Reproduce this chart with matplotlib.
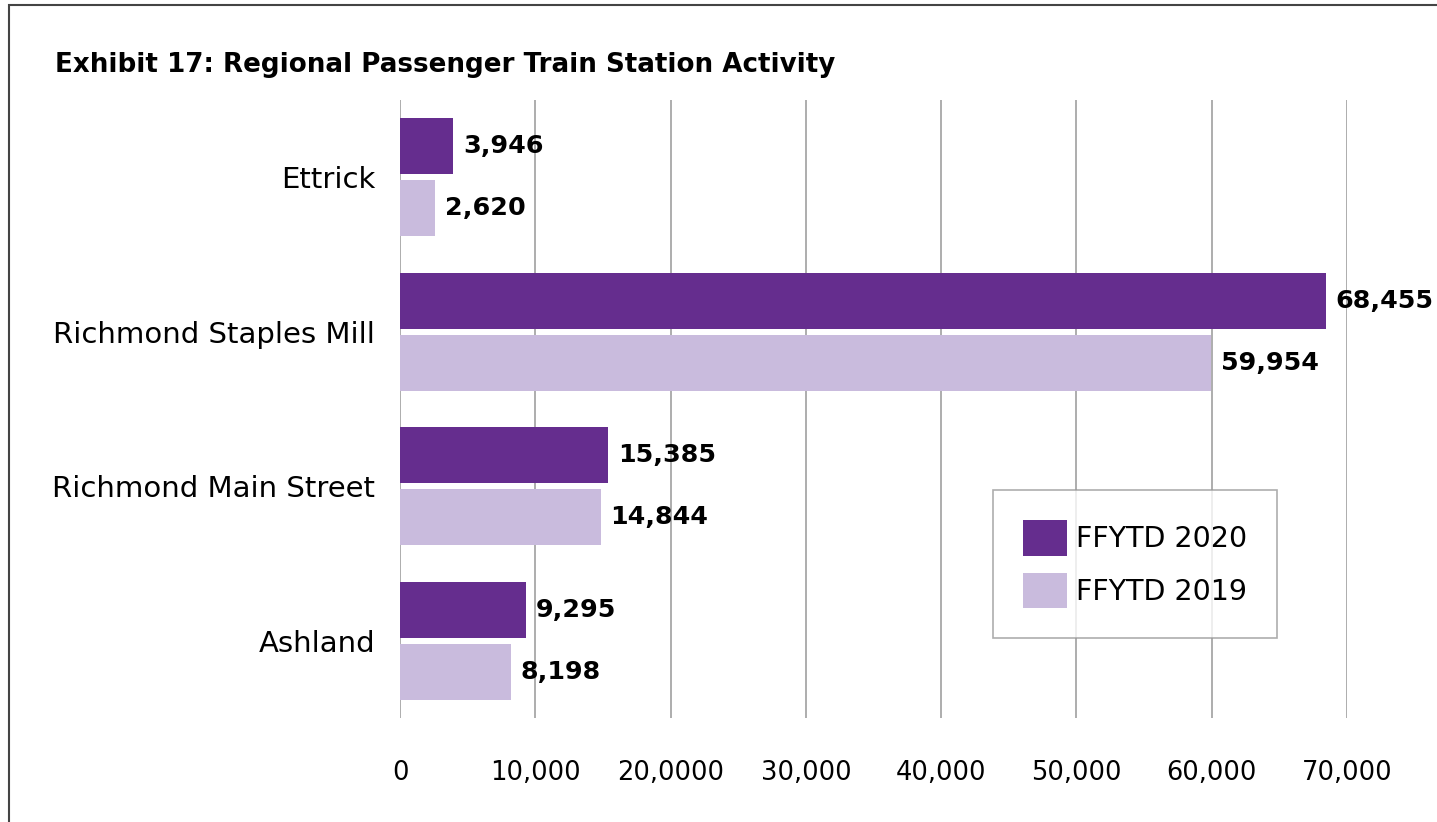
import matplotlib.pyplot as plt
import numpy as np
from matplotlib.patches import Rectangle

plt.rcParams['font.family'] = ['DejaVu Sans']

# data
stations = ['Ashland', 'Richmond Main Street', 'Richmond Staples Mill', 'Ettrick']
ffytd_2020 = [9295, 15385, 68455, 3946]
ffytd_2019 = [8198, 14844, 59954, 2620]
tick_vals = [0, 10000, 20000, 30000, 40000, 50000, 60000, 70000]
tick_labels = ['0', '10,000', '20,0000', '30,000', '40,000', '50,000', '60,000', '70,000']

c2020 = '#652d8e'
c2019 = '#c9bbdd'

fig = plt.figure(figsize=(14.37, 8.22), dpi=100)
ax = fig.add_axes([400 / 1437, 104 / 822, 947 / 1437, 618 / 822])

y = np.arange(len(stations))
h = 0.363
b1 = ax.barh(y + 0.2, ffytd_2020, height=h, color=c2020, label='FFYTD 2020', zorder=3)
b2 = ax.barh(y - 0.2, ffytd_2019, height=h, color=c2019, label='FFYTD 2019', zorder=3)

# value labels at bar ends
for bars in (b1, b2):
    for bar in bars:
        w = bar.get_width()
        ax.annotate(f'{w:,.0f}', (w, bar.get_y() + bar.get_height() / 2),
                    xytext=(7, 0), textcoords='offset points', va='center', ha='left',
                    fontsize=18.3, fontweight='bold', color='black', zorder=4)

ax.set_xlim(0, 70000)
ax.set_ylim(-0.5, 3.5)
ax.set_xticks(tick_vals)
ax.set_xticklabels(tick_labels, fontsize=18.5)
ax.set_yticks(y)
ax.set_yticklabels(stations, fontsize=21)
ax.tick_params(axis='x', length=0, pad=30)
ax.tick_params(axis='y', length=0, pad=18)
ax.grid(axis='x', color='#a0a0a0', linewidth=1.2, zorder=0)
for s in ax.spines.values():
    s.set_visible(False)

leg = ax.legend(loc='upper left', bbox_to_anchor=(593 / 947, (718 - 490) / 618),
                fontsize=20.5, frameon=True, fancybox=False, edgecolor='#999999',
                handlelength=1.55, handleheight=1.55, borderpad=1.05, labelspacing=0.6,
                handletextpad=0.3, borderaxespad=0)
leg.get_frame().set_linewidth(1.2)

fig.text(55 / 1437, 1 - 65 / 822, 'Exhibit 17: Regional Passenger Train Station Activity',
         fontsize=18.8, fontweight='bold', va='center', ha='left')

# outer frame
fig.patches.append(Rectangle((9 / 1437, -0.1), 2, 1.1 - 5 / 822, transform=fig.transFigure,
                             fill=False, edgecolor='#444444', linewidth=1.5))

fig.savefig('out.png', dpi=100)
